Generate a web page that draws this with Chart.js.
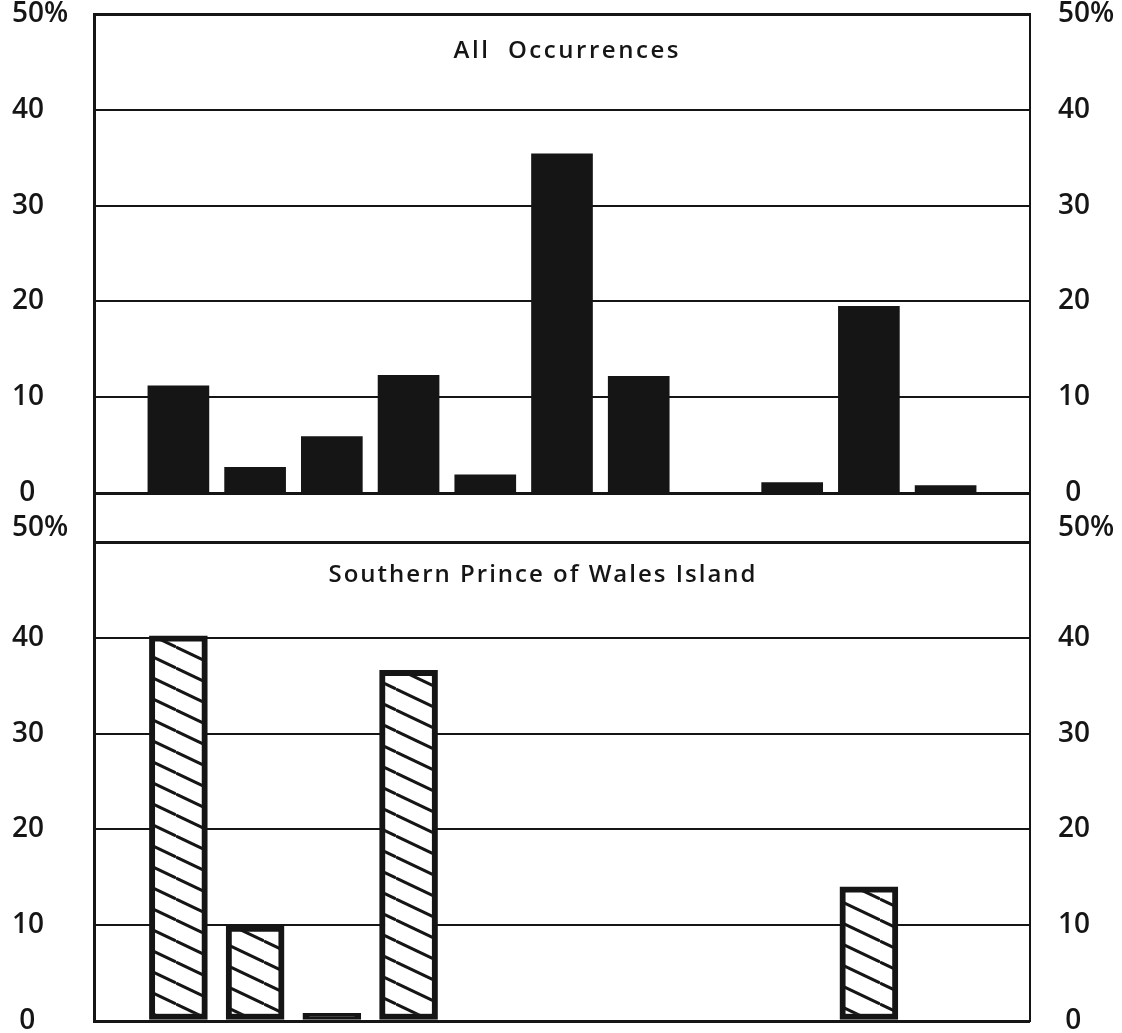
<!DOCTYPE html>
<html>
<head>
<meta charset="utf-8">
<script src="https://cdn.jsdelivr.net/npm/chart.js@4.4.1/dist/chart.umd.min.js"></script>
<style>
  html, body { margin: 0; padding: 0; background: #fff; }
  body { width: 1122px; height: 1033px; position: relative; overflow: hidden; }
  .panel { position: absolute; left: 0; width: 1122px; }
  #topPanel { top: 0; height: 548px; }
  #bottomPanel { top: 500px; height: 533px; }
</style>
</head>
<body>
<div class="panel" id="topPanel"><canvas id="topChart"></canvas></div>
<div class="panel" id="bottomPanel"><canvas id="bottomChart"></canvas></div>
<script>
// category slots along the x axis (no labels printed on the original)
const categories = ["1", "2", "3", "4", "5", "6", "7", "8", "9", "10", "11"];
// percent of occurrences
const allOccurrences = [11.2, 2.7, 5.9, 12.3, 1.9, 35.4, 12.2, 0, 1.1, 19.5, 0.8];
const southernPOW = [40.2, 9.9, 0.8, 36.6, 0, 0, 0, 0, 0, 14.0, 0];
const tickValues = [0, 10, 20, 30, 40, 50];
const panelTitles = ["All  Occurrences", "Southern Prince of Wales Island"];

const INK = "#151515";
const FONT = "Open Sans";

function toPoints(values) {
  return values.map((v, i) => ({ x: i, y: v }));
}

function makeHatch() {
  const c = document.createElement("canvas");
  c.width = 44;
  c.height = 21;
  const g = c.getContext("2d");
  g.fillStyle = "#fff";
  g.fillRect(0, 0, 44, 21);
  g.strokeStyle = INK;
  g.lineWidth = 3;
  for (let k = -1; k <= 1; k++) {
    g.beginPath();
    g.moveTo(0, k * 21);
    g.lineTo(44, k * 21 + 21);
    g.stroke();
  }
  return g.createPattern(c, "repeat");
}

// panel caption drawn inside the plot box, stretched to the original width
const panelTitle = {
  id: "panelTitle",
  afterDatasetsDraw(chart, args, opts) {
    const { ctx, chartArea } = chart;
    ctx.save();
    ctx.font = "600 24px '" + FONT + "'";
    const w = ctx.measureText(opts.text).width;
    const gap = (opts.width - w) / (opts.text.length - 1);
    ctx.letterSpacing = gap + "px";
    ctx.fillStyle = INK;
    ctx.textAlign = "left";
    ctx.textBaseline = "alphabetic";
    ctx.fillText(opts.text, opts.x - opts.width / 2, chartArea.top + opts.dy);
    ctx.restore();
  },
};

// raiseTop: the lower panel prints its 50% a little above the top rule
function yAxes(min, raiseTop) {
  const fixTicks = (scale) => {
    scale.ticks = tickValues.map((v) => ({ value: v }));
  };
  const label = (v) => {
    if (v === 50) return raiseTop ? ["50%", ""] : "50%";
    return v === 0 ? " 0" : String(v);
  };
  const tickFont = { family: FONT, size: 28, weight: "600", lineHeight: 1 };
  return {
    x: { type: "linear", min: -1.1, max: 11.1, offset: false, display: false },
    y: {
      position: "left",
      min: min,
      max: 50,
      afterBuildTicks: fixTicks,
      afterFit: (s) => {
        s.width = 82;
        s.paddingTop = 0;
        s.paddingBottom = 0;
      },
      grid: {
        color: INK,
        drawTicks: false,
        lineWidth: (ctx) => (ctx.tick && (ctx.tick.value === 50 || ctx.tick.value === 0) ? 3 : 2),
      },
      border: { display: true, color: INK, width: 3 },
      ticks: { crossAlign: "far", padding: 0, color: INK, font: tickFont, callback: label },
    },
    yRight: {
      position: "right",
      min: min,
      max: 50,
      afterBuildTicks: fixTicks,
      afterFit: (s) => {
        s.width = 92;
        s.paddingTop = 0;
        s.paddingBottom = 0;
      },
      grid: { display: false, drawTicks: false },
      border: { display: true, color: INK, width: 2 },
      ticks: { crossAlign: "near", padding: 28, color: INK, font: tickFont, callback: label },
    },
  };
}

const hatch = makeHatch();

new Chart(document.getElementById("topChart"), {
  type: "bar",
  data: {
    datasets: [
      {
        label: panelTitles[0],
        data: toPoints(allOccurrences),
        backgroundColor: INK,
        borderWidth: 0,
        barThickness: 61,
      },
    ],
  },
  options: {
    responsive: true,
    maintainAspectRatio: false,
    animation: false,
    layout: { padding: { left: 12, right: 0, top: 14, bottom: 6 } },
    scales: yAxes(-5.1, false),
    plugins: {
      legend: { display: false },
      tooltip: { enabled: false },
      panelTitle: { text: panelTitles[0], x: 566, width: 225, dy: 44 },
    },
  },
  plugins: [panelTitle],
});

new Chart(document.getElementById("bottomChart"), {
  type: "bar",
  data: {
    datasets: [
      {
        label: panelTitles[1],
        data: toPoints(southernPOW),
        // bars too short to show the hatching print solid
        backgroundColor: (ctx) => (ctx.raw && ctx.raw.y < 2 ? INK : hatch),
        borderColor: INK,
        borderWidth: 6,
        borderSkipped: false,
        barThickness: 58,
      },
    ],
  },
  options: {
    responsive: true,
    maintainAspectRatio: false,
    animation: false,
    layout: { padding: { left: 12, right: 0, top: 42, bottom: 12 } },
    scales: yAxes(0, true),
    plugins: {
      legend: { display: false },
      tooltip: { enabled: false },
      panelTitle: { text: panelTitles[1], x: 542, width: 427, dy: 40 },
    },
  },
  plugins: [panelTitle],
});
</script>
</body>
</html>
